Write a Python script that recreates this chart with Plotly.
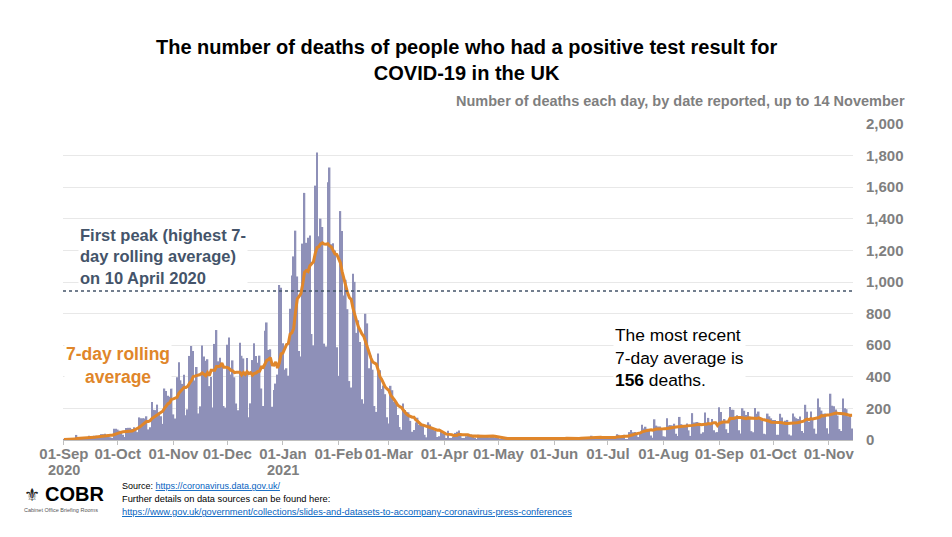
import pandas as pd
import plotly.graph_objects as go

# Daily deaths (by date reported), 1 Sep 2020 - 14 Nov 2021
sep_2020 = [3, 3, 10, 6, 12, 2, 3, 32, 8, 14, 6, 9, 5, 9, 27, 20, 21, 27, 27, 18,
            11, 37, 37, 40, 34, 34, 17, 13, 71, 71]
oct_2020 = [66, 59, 49, 33, 19, 76, 77, 77, 70, 81, 65, 50, 143, 137, 138, 136, 150,
            67, 80, 241, 191, 189, 224, 174, 151, 102, 367, 310, 280, 274, 326]
nov_2020 = [162, 136, 397, 492, 378, 355, 413, 156, 194, 532, 595, 563, 376, 462, 168,
            213, 598, 529, 501, 511, 341, 398, 206, 608, 696, 498, 521, 479, 215, 205]
dec_2020 = [603, 648, 414, 504, 397, 231, 189, 616, 533, 516, 424, 519, 144, 232, 506,
            612, 532, 489, 534, 326, 215, 691, 744, 570, 574, 210, 316, 357, 414, 981, 964]
jan_2021 = [613, 445, 454, 407, 830, 1041, 1162, 1325, 1035, 563, 529, 1243, 1564, 1248,
            1280, 1295, 671, 599, 1610, 1820, 1290, 1401, 1348, 610, 592, 1631, 1725,
            1239, 1245, 1200, 587]
feb_2021 = [406, 1449, 1322, 915, 1014, 828, 373, 333, 1052, 1001, 678, 758, 621, 258,
            230, 799, 738, 454, 533, 445, 215, 178, 548, 442, 323, 345, 290, 144]
mar_2021 = [104, 343, 315, 242, 236, 158, 82, 65, 231, 190, 175, 175, 121, 52, 64, 110,
            141, 95, 101, 96, 33, 17, 112, 98, 70, 63, 58, 19, 23, 56, 43]
apr_2021 = [51, 10, 58, 10, 11, 20, 45, 53, 60, 40, 7, 13, 23, 33, 30, 34, 32, 10, 4, 33,
            22, 29, 32, 32, 19, 17, 29, 22, 18, 15]
may_2021 = [15, 1, 1, 4, 14, 13, 14, 15, 2, 4, 11, 9, 11, 17, 7, 4, 4, 7, 19, 9, 12, 8,
            5, 1, 15, 7, 12, 10, 5, 6, 1]
jun_2021 = [0, 12, 18, 11, 13, 4, 4, 13, 7, 13, 17, 12, 8, 3, 9, 19, 19, 11, 14, 10, 5,
            27, 19, 16, 18, 18, 14, 3, 23, 18]
jul_2021 = [14, 18, 18, 15, 9, 37, 33, 26, 26, 34, 6, 6, 50, 63, 49, 51, 41, 19, 39, 96,
            73, 84, 71, 64, 28, 14, 131, 91, 86, 85, 65]
aug_2021 = [24, 21, 138, 92, 94, 92, 103, 39, 26, 146, 100, 93, 94, 104, 61, 26, 170,
            111, 113, 114, 100, 40, 49, 174, 111, 140, 100, 133, 61, 48, 50]
sep_2021 = [207, 178, 121, 133, 68, 45, 209, 191, 191, 147, 156, 61, 41, 201, 185, 158,
            178, 148, 56, 49, 203, 166, 180, 136, 121, 40, 37, 167, 150, 137]
oct_2021 = [127, 127, 33, 33, 166, 143, 109, 122, 127, 35, 28, 167, 148, 138, 133, 148,
            57, 45, 223, 179, 115, 180, 135, 72, 40, 263, 207, 186, 166, 167, 74]
nov_2021 = [40, 293, 217, 214, 193, 155, 69, 57, 262, 201, 195, 150, 157, 72]

first_peak_avg = 943

tick_dates = ["2020-09-01", "2020-10-01", "2020-11-01", "2020-12-01", "2021-01-01",
              "2021-02-01", "2021-03-01", "2021-04-01", "2021-05-01", "2021-06-01",
              "2021-07-01", "2021-08-01", "2021-09-01", "2021-10-01", "2021-11-01"]
tick_text = ["01-Sep", "01-Oct", "01-Nov", "01-Dec", "01-Jan", "01-Feb",
             "01-Mar", "01-Apr", "01-May", "01-Jun", "01-Jul", "01-Aug", "01-Sep",
             "01-Oct", "01-Nov"]
year_dates = ["2020-09-01", "2021-01-01"]
year_text = ["2020", "2021"]

deaths = (sep_2020 + oct_2020 + nov_2020 + dec_2020 + jan_2021 + feb_2021 + mar_2021 +
          apr_2021 + may_2021 + jun_2021 + jul_2021 + aug_2021 + sep_2021 + oct_2021 + nov_2021)
dates = pd.date_range("2020-09-01", periods=len(deaths), freq="D")
s = pd.Series(deaths, index=dates)
avg7 = s.rolling(7, min_periods=1).mean()

GREY = "#7F7F7F"
BAR = "#8E90B8"
ORANGE = "#E0862A"
SLATE = "#44546A"

fig = go.Figure()
fig.add_trace(go.Bar(x=dates, y=deaths, marker=dict(color=BAR, line=dict(width=0)),
                     showlegend=False))
fig.add_trace(go.Scatter(x=dates, y=avg7, mode="lines",
                         line=dict(color=ORANGE, width=3), showlegend=False))

fig.add_shape(type="line", xref="paper", yref="y", x0=0, x1=1,
              y0=first_peak_avg, y1=first_peak_avg,
              line=dict(color=SLATE, width=1.5, dash="dot"))

L, R, T, B = 63, 99, 124, 97
W, H = 952, 537
pw, ph = W - L - R, H - T - B


def px(x):
    return (x - L) / pw


def py(y):
    return (H - B - y) / ph


FONT = "Liberation Sans, Arial, sans-serif"

fig.update_layout(
    width=W, height=H,
    margin=dict(l=L, r=R, t=T, b=B),
    plot_bgcolor="white", paper_bgcolor="white",
    bargap=0.12,
    font=dict(family=FONT, color=GREY),
    xaxis=dict(
        type="date",
        range=["2020-08-31 12:00", "2021-11-14 12:00"],
        tickvals=tick_dates, ticktext=tick_text, tickangle=0,
        tickfont=dict(size=15, color=GREY, family=FONT, weight="bold"),
        showgrid=False, showline=True, linecolor="#BFBFBF", linewidth=1,
        ticks="outside", ticklen=4, tickcolor="#BFBFBF",
        ticklabelstandoff=-4,
        automargin=False,
    ),
    yaxis=dict(
        side="right", range=[0, 2000], tickvals=list(range(0, 2001, 200)),
        tickformat=",", showgrid=True, gridcolor="#E8E8E8", zeroline=False,
        tickfont=dict(size=15, color=GREY, weight="bold"),
        ticklabelstandoff=12, automargin=False,
    ),
)

anns = [
    dict(text="<b>The number of deaths of people who had a positive test result for<br>COVID-19 in the UK</b>",
         xref="paper", yref="paper", x=px(467), y=py(60), xanchor="center", yanchor="middle",
         font=dict(size=20, color="black"),
         showarrow=False, align="center"),
    dict(text="<b>Number of deaths each day, by date reported, up to 14 November</b>",
         xref="paper", yref="paper", x=px(907), y=py(101), xanchor="right", yanchor="middle",
         font=dict(size=14.5, color=GREY),
         showarrow=False),
    dict(text="<b>First peak (highest 7-<br>day rolling average)<br>on 10 April 2020</b>",
         xref="paper", yref="paper", x=px(78), y=py(256), xanchor="left", yanchor="middle",
         font=dict(size=16.5, color=SLATE), align="left", showarrow=False, bgcolor="white"),
    dict(text="<b>7-day rolling<br>average</b>",
         xref="paper", yref="paper", x=px(118), y=py(365), xanchor="center", yanchor="middle",
         font=dict(size=17.5, color=ORANGE), align="center", showarrow=False, bgcolor="white"),
    dict(text="The most recent<br>7-day average is<br><b>156</b> deaths.",
         xref="paper", yref="paper", x=px(613), y=py(357), xanchor="left", yanchor="middle",
         font=dict(size=17.4, color="black"), align="left", showarrow=False, bgcolor="white"),
    dict(text="<b>COBR</b>", xref="paper", yref="paper", x=px(43), y=py(494),
         xanchor="left", yanchor="middle", font=dict(size=20, color="black"), showarrow=False),
    dict(text="⚜", xref="paper", yref="paper", x=px(32), y=py(494),
         xanchor="center", yanchor="middle", font=dict(size=18, color="#222222", family="DejaVu Sans"),
         showarrow=False),
    dict(text="Cabinet Office Briefing Rooms", xref="paper", yref="paper", x=px(61), y=py(510),
         xanchor="center", yanchor="middle", font=dict(size=5.5, color="#555555"), showarrow=False),
    dict(text="Source: <span style='color:#0563C1'><u>https://coronavirus.data.gov.uk/</u></span>",
         xref="paper", yref="paper", x=px(120), y=py(486), xanchor="left", yanchor="middle",
         font=dict(size=9, color="black"), showarrow=False),
    dict(text="Further details on data sources can be found here:",
         xref="paper", yref="paper", x=px(120), y=py(499), xanchor="left", yanchor="middle",
         font=dict(size=9.3, color="black"), showarrow=False),
    dict(text="<u>https://www.gov.uk/government/collections/slides-and-datasets-to-accompany-coronavirus-press-conferences</u>",
         xref="paper", yref="paper", x=px(120), y=py(512), xanchor="left", yanchor="middle",
         font=dict(size=9.3, color="#0563C1"), showarrow=False),
]
for d, t in zip(year_dates, year_text):
    anns.append(dict(text=f"<b>{t}</b>", xref="x", yref="paper", x=d, y=py(470),
                     xanchor="center", yanchor="middle", showarrow=False,
                     font=dict(size=14.5, color=GREY), borderpad=0))
fig.update_layout(annotations=anns)

fig.write_html("out.html", config={"displayModeBar": False},
               post_script="document.body.style.margin='0';document.body.style.padding='0';")
